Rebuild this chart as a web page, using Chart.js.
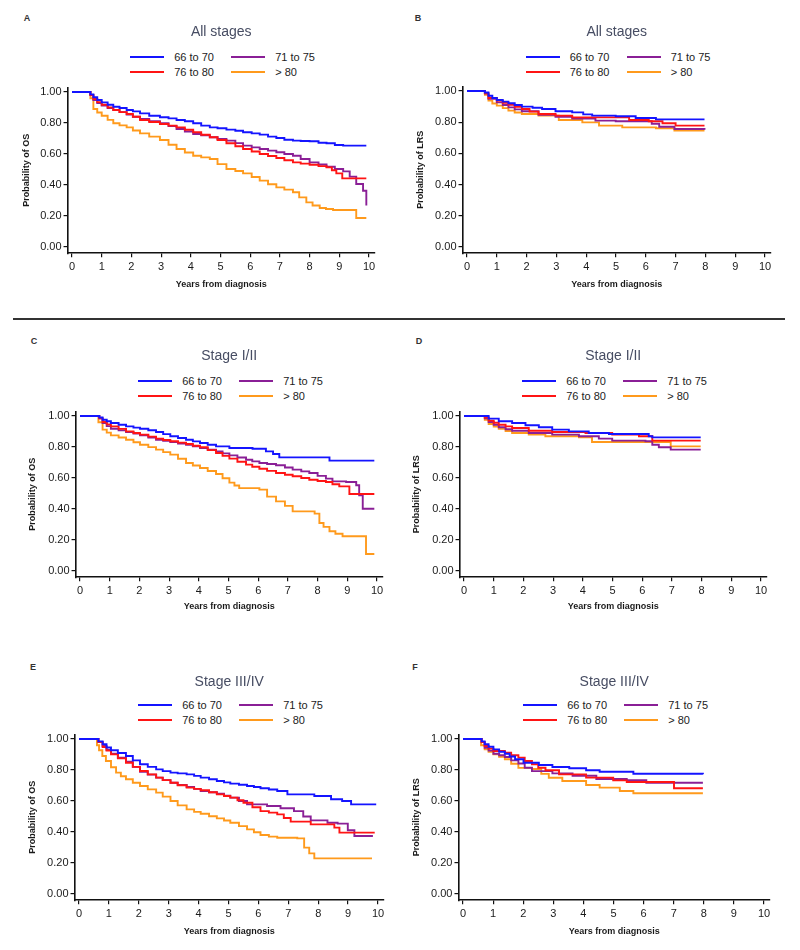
<!DOCTYPE html>
<html>
<head>
<meta charset="utf-8">
<title>Overall and locoregional survival by age group</title>
<script src="https://cdn.jsdelivr.net/npm/chart.js@4.4.1/dist/chart.umd.min.js"></script>
<style>
body { margin: 0; background: #fff; font-family: "Liberation Sans", Arial, sans-serif; }
#page { position: relative; width: 800px; height: 950px; overflow: hidden; }
canvas { position: absolute; }
.letter { position: absolute; font-size: 9px; font-weight: bold; color: #333; transform: translate(-50%, -50%); }
.legend { position: absolute; display: grid; grid-template-columns: 101px 101px; grid-auto-rows: 14.5px; font-size: 11px; color: #222; }
.legend .item { display: flex; align-items: center; white-space: nowrap; }
.legend .swatch { width: 34px; height: 2px; margin-right: 10px; }
.sep { position: absolute; left: 13px; top: 318px; width: 772px; height: 1.5px; background: #333; }
</style>
</head>
<body>
<div id="page"><div class="sep"></div></div>
<script>
// Tick labels and groups
const xTicks = [0, 1, 2, 3, 4, 5, 6, 7, 8, 9, 10];
const yTicks = [0, 0.2, 0.4, 0.6, 0.8, 1.0];
const groups = ['66 to 70', '71 to 75', '76 to 80', '> 80'];
const groupColors = ['#1414ff', '#8a1f96', '#ff1414', '#ff9a1c'];

// A - overall survival, all stages  [years, probability]
const osAll66 = [[0,1],[0.55,1],[0.62,0.985],[0.72,0.966],[0.85,0.948],[1.0,0.933],[1.2,0.918],[1.39,0.905],[1.6,0.897],[1.84,0.884],[2.05,0.875],[2.29,0.862],[2.6,0.847],[2.96,0.837],[3.25,0.830],[3.52,0.819],[3.8,0.811],[4.08,0.798],[4.35,0.783],[4.64,0.772],[4.9,0.766],[5.2,0.757],[5.5,0.750],[5.76,0.740],[6.05,0.733],[6.32,0.725],[6.6,0.712],[6.88,0.703],[7.15,0.692],[7.44,0.686],[7.7,0.684],[8.0,0.682],[8.3,0.673],[8.57,0.669],[8.85,0.658],[9.13,0.654],[9.91,0.654]];
const osAll71 = [[0,1],[0.55,1],[0.62,0.98],[0.72,0.948],[0.85,0.928],[1.0,0.912],[1.2,0.897],[1.39,0.884],[1.6,0.870],[1.84,0.854],[2.05,0.840],[2.29,0.826],[2.6,0.812],[2.96,0.798],[3.25,0.780],[3.52,0.761],[3.8,0.745],[4.08,0.729],[4.35,0.720],[4.64,0.708],[4.9,0.697],[5.2,0.686],[5.5,0.670],[5.76,0.654],[6.05,0.643],[6.32,0.632],[6.6,0.622],[6.88,0.611],[7.15,0.600],[7.44,0.589],[7.7,0.568],[8.0,0.546],[8.3,0.532],[8.57,0.518],[8.85,0.503],[9.13,0.488],[9.35,0.454],[9.57,0.406],[9.8,0.363],[9.91,0.267]];
const osAll76 = [[0,1],[0.55,1],[0.62,0.98],[0.72,0.955],[0.85,0.935],[1.0,0.918],[1.2,0.900],[1.39,0.884],[1.6,0.870],[1.84,0.858],[2.05,0.840],[2.29,0.819],[2.6,0.806],[2.96,0.794],[3.25,0.783],[3.52,0.772],[3.8,0.756],[4.08,0.740],[4.35,0.724],[4.64,0.708],[4.9,0.690],[5.2,0.669],[5.5,0.650],[5.76,0.632],[6.05,0.616],[6.32,0.600],[6.6,0.587],[6.88,0.574],[7.15,0.560],[7.44,0.546],[7.7,0.538],[8.0,0.531],[8.3,0.522],[8.57,0.514],[8.75,0.495],[8.9,0.475],[9.1,0.443],[9.91,0.443]];
const osAll80 = [[0,1],[0.55,1],[0.62,0.96],[0.72,0.890],[0.85,0.868],[1.0,0.847],[1.2,0.820],[1.39,0.798],[1.6,0.785],[1.84,0.772],[2.05,0.752],[2.29,0.733],[2.6,0.712],[2.96,0.690],[3.25,0.660],[3.52,0.632],[3.8,0.610],[4.08,0.589],[4.35,0.578],[4.64,0.568],[4.9,0.535],[5.2,0.503],[5.5,0.490],[5.76,0.475],[6.05,0.452],[6.32,0.428],[6.6,0.405],[6.88,0.385],[7.15,0.370],[7.44,0.353],[7.65,0.320],[7.89,0.288],[8.1,0.268],[8.34,0.252],[8.55,0.245],[8.79,0.239],[9.52,0.239],[9.57,0.187],[9.91,0.187]];

// B - locoregional survival, all stages
const lrsAll66 = [[0,1],[0.52,1],[0.6,0.99],[0.72,0.970],[0.85,0.955],[1.0,0.942],[1.2,0.932],[1.39,0.921],[1.6,0.910],[1.84,0.900],[2.2,0.893],[2.52,0.885],[2.97,0.870],[3.53,0.863],[3.9,0.850],[4.2,0.842],[4.99,0.838],[5.66,0.827],[6.34,0.818],[7.97,0.818]];
const lrsAll71 = [[0,1],[0.52,1],[0.6,0.985],[0.72,0.950],[1.0,0.927],[1.2,0.910],[1.39,0.895],[1.6,0.882],[1.84,0.870],[2.4,0.848],[2.97,0.835],[3.53,0.823],[4.31,0.810],[4.99,0.806],[6.2,0.790],[6.45,0.771],[6.96,0.756],[7.97,0.752]];
const lrsAll76 = [[0,1],[0.52,1],[0.6,0.985],[0.72,0.955],[1.0,0.938],[1.2,0.925],[1.39,0.912],[1.6,0.898],[1.84,0.885],[2.1,0.868],[2.4,0.853],[2.97,0.842],[3.53,0.831],[5.44,0.814],[6.1,0.806],[6.56,0.793],[7.0,0.778],[7.97,0.778]];
const lrsAll80 = [[0,1],[0.52,1],[0.6,0.975],[0.72,0.938],[0.85,0.920],[1.0,0.906],[1.2,0.890],[1.39,0.874],[1.6,0.862],[1.84,0.853],[2.4,0.842],[3.08,0.814],[3.87,0.799],[4.43,0.778],[5.21,0.767],[6.34,0.761],[6.96,0.746],[7.97,0.746]];

// C - overall survival, stage I/II
const osEarly66 = [[0,1],[0.55,1],[0.65,0.99],[0.76,0.976],[0.9,0.966],[1.04,0.955],[1.3,0.944],[1.55,0.933],[1.8,0.925],[2.02,0.918],[2.3,0.908],[2.56,0.897],[2.8,0.883],[3.04,0.869],[3.3,0.858],[3.57,0.847],[3.8,0.836],[4.04,0.826],[4.3,0.815],[4.58,0.804],[5.03,0.794],[5.81,0.789],[6.26,0.772],[6.5,0.755],[6.71,0.733],[8.4,0.712],[9.91,0.712]];
const osEarly71 = [[0,1],[0.55,1],[0.65,0.985],[0.76,0.955],[0.9,0.935],[1.04,0.918],[1.3,0.907],[1.55,0.897],[1.8,0.886],[2.02,0.875],[2.3,0.861],[2.56,0.847],[2.8,0.840],[3.04,0.832],[3.3,0.823],[3.57,0.815],[3.8,0.804],[4.04,0.794],[4.3,0.783],[4.58,0.772],[4.8,0.759],[5.03,0.746],[5.3,0.732],[5.59,0.718],[5.8,0.707],[6.04,0.697],[6.3,0.690],[6.6,0.682],[6.9,0.668],[7.16,0.654],[7.45,0.643],[7.72,0.632],[8.0,0.614],[8.28,0.596],[8.5,0.578],[8.96,0.574],[9.3,0.553],[9.4,0.488],[9.52,0.402],[9.91,0.402]];
const osEarly76 = [[0,1],[0.55,1],[0.65,0.985],[0.76,0.961],[0.9,0.946],[1.04,0.933],[1.3,0.917],[1.55,0.901],[1.8,0.890],[2.02,0.880],[2.3,0.867],[2.56,0.854],[2.8,0.845],[3.04,0.837],[3.3,0.828],[3.57,0.819],[3.8,0.808],[4.04,0.798],[4.3,0.780],[4.58,0.761],[4.8,0.743],[5.03,0.725],[5.3,0.705],[5.59,0.686],[5.8,0.673],[6.04,0.660],[6.3,0.646],[6.6,0.632],[6.9,0.621],[7.16,0.611],[7.45,0.600],[7.72,0.589],[8.0,0.581],[8.28,0.574],[8.5,0.560],[8.73,0.546],[9.07,0.497],[9.91,0.497]];
const osEarly80 = [[0,1],[0.55,1],[0.62,0.96],[0.76,0.912],[0.9,0.893],[1.04,0.875],[1.3,0.861],[1.55,0.847],[1.8,0.831],[2.02,0.815],[2.3,0.799],[2.56,0.783],[2.8,0.767],[3.04,0.751],[3.3,0.724],[3.57,0.697],[3.8,0.681],[4.04,0.665],[4.3,0.645],[4.58,0.626],[4.8,0.598],[5.03,0.570],[5.2,0.552],[5.36,0.535],[6.04,0.525],[6.3,0.480],[6.6,0.449],[6.9,0.420],[7.16,0.385],[7.9,0.370],[8.06,0.310],[8.2,0.285],[8.4,0.256],[8.6,0.240],[8.84,0.224],[9.57,0.224],[9.63,0.110],[9.91,0.110]];

// D - locoregional survival, stage I/II
const lrsEarly66 = [[0,1],[0.6,1],[0.83,0.983],[1.17,0.966],[1.62,0.955],[2.07,0.940],[2.52,0.927],[2.97,0.912],[3.53,0.901],[4.2,0.890],[4.88,0.884],[6.22,0.869],[6.34,0.862],[7.97,0.862]];
const lrsEarly71 = [[0,1],[0.6,1],[0.7,0.985],[0.83,0.961],[1.0,0.943],[1.17,0.927],[1.4,0.915],[1.62,0.905],[2.18,0.890],[2.97,0.880],[3.87,0.869],[4.54,0.854],[4.99,0.841],[6.11,0.837],[6.34,0.815],[6.56,0.798],[6.96,0.783],[7.97,0.783]];
const lrsEarly76 = [[0,1],[0.6,1],[0.7,0.99],[0.83,0.970],[1.0,0.956],[1.17,0.944],[1.4,0.933],[1.62,0.923],[2.18,0.905],[2.97,0.897],[4.09,0.890],[4.99,0.880],[5.89,0.869],[6.34,0.841],[7.97,0.841]];
const lrsEarly80 = [[0,1],[0.55,1],[0.7,0.975],[0.83,0.948],[1.0,0.932],[1.17,0.918],[1.4,0.903],[1.62,0.890],[2.18,0.880],[2.74,0.869],[3.87,0.862],[4.31,0.832],[6.96,0.804],[7.97,0.804]];

// E - overall survival, stage III/IV
const osLate66 = [[0,1],[0.55,1],[0.65,0.985],[0.79,0.966],[0.92,0.945],[1.07,0.927],[1.3,0.910],[1.57,0.890],[1.8,0.862],[2.04,0.837],[2.3,0.820],[2.58,0.804],[2.8,0.793],[3.06,0.783],[3.3,0.778],[3.6,0.772],[3.85,0.762],[4.07,0.751],[4.35,0.740],[4.61,0.729],[4.85,0.720],[5.06,0.712],[5.35,0.705],[5.62,0.697],[5.85,0.690],[6.07,0.682],[6.35,0.674],[6.63,0.665],[6.97,0.643],[7.87,0.632],[8.43,0.611],[8.8,0.600],[9.1,0.578],[9.94,0.578]];
const osLate71 = [[0,1],[0.55,1],[0.65,0.98],[0.79,0.955],[0.92,0.930],[1.07,0.905],[1.3,0.880],[1.57,0.854],[1.8,0.820],[2.04,0.789],[2.3,0.770],[2.58,0.751],[2.8,0.735],[3.06,0.718],[3.3,0.704],[3.6,0.690],[3.85,0.678],[4.07,0.665],[4.35,0.656],[4.61,0.647],[4.85,0.635],[5.06,0.622],[5.35,0.600],[5.62,0.578],[6.29,0.568],[6.74,0.553],[7.19,0.535],[7.5,0.500],[7.75,0.475],[8.31,0.460],[8.65,0.454],[8.99,0.411],[9.21,0.374],[9.83,0.374]];
const osLate76 = [[0,1],[0.55,1],[0.65,0.98],[0.79,0.948],[0.92,0.925],[1.07,0.901],[1.3,0.875],[1.57,0.847],[1.8,0.820],[2.04,0.794],[2.3,0.772],[2.58,0.751],[2.8,0.735],[3.06,0.718],[3.3,0.702],[3.6,0.686],[3.85,0.678],[4.07,0.669],[4.35,0.656],[4.61,0.643],[4.85,0.632],[5.06,0.622],[5.3,0.605],[5.5,0.589],[5.8,0.560],[6.07,0.535],[6.35,0.525],[6.63,0.514],[6.85,0.490],[7.08,0.467],[7.75,0.449],[8.54,0.428],[8.71,0.396],[9.89,0.396]];
const osLate80 = [[0,1],[0.55,1],[0.6,0.96],[0.67,0.927],[0.78,0.890],[0.9,0.858],[1.07,0.818],[1.24,0.783],[1.4,0.760],[1.57,0.740],[1.8,0.718],[2.04,0.697],[2.3,0.675],[2.58,0.654],[2.8,0.628],[3.06,0.600],[3.3,0.572],[3.6,0.546],[3.85,0.530],[4.07,0.518],[4.35,0.502],[4.61,0.488],[4.85,0.474],[5.06,0.460],[5.35,0.438],[5.62,0.417],[5.85,0.398],[6.07,0.381],[6.35,0.370],[6.63,0.363],[7.3,0.359],[7.53,0.299],[7.7,0.262],[7.87,0.230],[9.8,0.230]];

// F - locoregional survival, stage III/IV
const lrsLate66 = [[0,1],[0.55,1],[0.62,0.985],[0.72,0.966],[0.85,0.950],[1.01,0.933],[1.2,0.918],[1.39,0.905],[1.55,0.887],[1.73,0.869],[2.01,0.847],[2.52,0.832],[2.97,0.819],[3.53,0.811],[4.09,0.798],[4.54,0.789],[5.66,0.776],[7.97,0.772]];
const lrsLate71 = [[0,1],[0.55,1],[0.62,0.98],[0.72,0.944],[0.85,0.925],[1.01,0.905],[1.2,0.895],[1.39,0.884],[1.6,0.862],[1.84,0.842],[2.05,0.815],[2.29,0.793],[2.97,0.778],[3.64,0.763],[4.43,0.742],[5.44,0.735],[6.09,0.718],[7.97,0.718]];
const lrsLate76 = [[0,1],[0.55,1],[0.62,0.98],[0.72,0.955],[0.85,0.938],[1.01,0.923],[1.39,0.912],[1.6,0.895],[1.84,0.880],[2.05,0.858],[2.29,0.837],[2.5,0.815],[2.74,0.798],[3.19,0.772],[4.09,0.751],[4.99,0.733],[5.44,0.723],[7.01,0.682],[7.97,0.682]];
const lrsLate80 = [[0,1],[0.5,1],[0.6,0.96],[0.72,0.933],[0.85,0.917],[1.01,0.901],[1.2,0.885],[1.39,0.869],[1.6,0.840],[1.84,0.814],[2.29,0.806],[2.6,0.775],[2.85,0.750],[3.3,0.729],[4.09,0.703],[4.54,0.686],[5.21,0.665],[5.66,0.650],[7.97,0.650]];

// scale ranges (axes stop a little outside the ticks, like the original)
const X_MIN = -0.15, X_MAX = 10.2, Y_MIN = -0.04, Y_MAX = 1.03;
const Y_AXIS_W = 48, X_AXIS_H = 40;
const FONT = '"Liberation Sans", Arial, sans-serif';

// page layout: canvas box, pixel spots of ticks 0/10 and 1.00/0.00, text spots
const panels = [
  { letter: 'A', title: 'All stages', yLabel: 'Probability of OS', series: [osAll66, osAll71, osAll76, osAll80],
    box: [0, 0, 400, 300], x0: 72, x10: 369, y1: 92, y0: 247, titleY: 32, legendY: 57, xTitleY: 285, yTitleX: 27, letterAt: [27, 18] },
  { letter: 'B', title: 'All stages', yLabel: 'Probability of LRS', series: [lrsAll66, lrsAll71, lrsAll76, lrsAll80],
    box: [400, 0, 400, 300], x0: 467, x10: 765, y1: 91, y0: 247, titleY: 32, legendY: 57, xTitleY: 285, yTitleX: 421, letterAt: [418, 18] },
  { letter: 'C', title: 'Stage I/II', yLabel: 'Probability of OS', series: [osEarly66, osEarly71, osEarly76, osEarly80],
    box: [0, 320, 400, 300], x0: 80, x10: 377, y1: 416, y0: 571, titleY: 356, legendY: 381, xTitleY: 607, yTitleX: 33, letterAt: [34, 341] },
  { letter: 'D', title: 'Stage I/II', yLabel: 'Probability of LRS', series: [lrsEarly66, lrsEarly71, lrsEarly76, lrsEarly80],
    box: [400, 320, 400, 300], x0: 464, x10: 761, y1: 416, y0: 571, titleY: 356, legendY: 381, xTitleY: 607, yTitleX: 417, letterAt: [419, 341] },
  { letter: 'E', title: 'Stage III/IV', yLabel: 'Probability of OS', series: [osLate66, osLate71, osLate76, osLate80],
    box: [0, 640, 400, 310], x0: 79, x10: 378, y1: 739, y0: 894, titleY: 682, legendY: 705, xTitleY: 932, yTitleX: 33, letterAt: [33, 667] },
  { letter: 'F', title: 'Stage III/IV', yLabel: 'Probability of LRS', series: [lrsLate66, lrsLate71, lrsLate76, lrsLate80],
    box: [400, 640, 400, 310], x0: 463, x10: 764, y1: 739, y0: 894, titleY: 682, legendY: 705, xTitleY: 932, yTitleX: 417, letterAt: [415, 667] }
];

const page = document.getElementById('page');

function buildPanel(p) {
  const [cx, cy, cw, ch] = p.box;
  const ppx = (p.x10 - p.x0) / 10, ppy = p.y0 - p.y1;
  const areaL = p.x0 + X_MIN * ppx, areaR = p.x0 + X_MAX * ppx;
  const areaT = p.y1 - (Y_MAX - 1) * ppy, areaB = p.y0 - Y_MIN * ppy;

  // panel letter
  const lt = document.createElement('div');
  lt.className = 'letter';
  lt.textContent = p.letter;
  lt.style.left = p.letterAt[0] + 'px';
  lt.style.top = p.letterAt[1] + 'px';
  page.appendChild(lt);

  // legend, 2 x 2
  const lg = document.createElement('div');
  lg.className = 'legend';
  lg.style.left = ((areaL + areaR) / 2 - 91) + 'px';
  lg.style.top = (p.legendY - 7.25) + 'px';
  groups.forEach((g, i) => {
    const it = document.createElement('div');
    it.className = 'item';
    it.innerHTML = '<span class="swatch" style="background:' + groupColors[i] + '"></span><span>' + g.replace('>', '&gt;') + '</span>';
    lg.appendChild(it);
  });
  page.appendChild(lg);

  const cv = document.createElement('canvas');
  cv.width = cw; cv.height = ch;
  cv.style.left = cx + 'px'; cv.style.top = cy + 'px';
  cv.style.width = cw + 'px'; cv.style.height = ch + 'px';
  page.appendChild(cv);

  // drawing order: blue, red, purple, orange (first one ends up on top)
  const drawOrder = [0, 2, 1, 3];
  const datasets = drawOrder.map(i => ({
    label: groups[i],
    data: p.series[i].map(([t, s]) => ({ x: t, y: s })),
    borderColor: groupColors[i],
    backgroundColor: groupColors[i],
    borderWidth: 1.9,
    pointRadius: 0,
    stepped: true,
    fill: false
  }));

  const padLeft = areaL - cx - Y_AXIS_W;
  new Chart(cv.getContext('2d'), {
    type: 'line',
    data: { datasets: datasets },
    options: {
      responsive: false,
      animation: false,
      events: [],
      layout: { padding: { left: padLeft, right: cx + cw - areaR, top: 0, bottom: cy + ch - areaB - X_AXIS_H } },
      plugins: {
        legend: { display: false },
        tooltip: { enabled: false },
        title: {
          display: true, text: p.title, fullSize: false, color: '#474d63',
          font: { family: FONT, size: 14, weight: 'normal', lineHeight: 1.2 },
          padding: { top: p.titleY - cy - 8.4, bottom: areaT - p.titleY - 8.4 }
        }
      },
      scales: {
        x: {
          type: 'linear', min: X_MIN, max: X_MAX,
          afterBuildTicks: s => { s.ticks = xTicks.map(v => ({ value: v })); },
          afterFit: s => { s.height = X_AXIS_H; },
          grid: { drawOnChartArea: false, drawTicks: true, tickLength: 4, color: '#111', lineWidth: 1.2 },
          border: { display: true, color: '#111', width: 1.6 },
          ticks: { color: '#1a1a1a', font: { family: FONT, size: 11 }, padding: 3, maxRotation: 0, autoSkip: false, callback: v => String(v) },
          title: { display: true, text: 'Years from diagnosis', color: '#1a1a1a',
                   font: { family: FONT, size: 9, weight: 'bold', lineHeight: 1.2 },
                   padding: { top: 0, bottom: (areaB + X_AXIS_H) - p.xTitleY - 5.4 } }
        },
        y: {
          type: 'linear', min: Y_MIN, max: Y_MAX,
          afterBuildTicks: s => { s.ticks = yTicks.map(v => ({ value: v })); },
          afterFit: s => { s.width = Y_AXIS_W; },
          grid: { drawOnChartArea: false, drawTicks: true, tickLength: 4, color: '#111', lineWidth: 1.2 },
          border: { display: true, color: '#111', width: 1.6 },
          ticks: { color: '#1a1a1a', font: { family: FONT, size: 11 }, padding: 2, callback: v => v.toFixed(2) },
          title: { display: true, text: p.yLabel, color: '#1a1a1a',
                   font: { family: FONT, size: 9, weight: 'bold', lineHeight: 1.2 },
                   padding: { top: Math.max(0, p.yTitleX - (cx + padLeft) - 5.4), bottom: 0 } }
        }
      }
    }
  });
}

panels.forEach(buildPanel);
</script>
</body>
</html>
